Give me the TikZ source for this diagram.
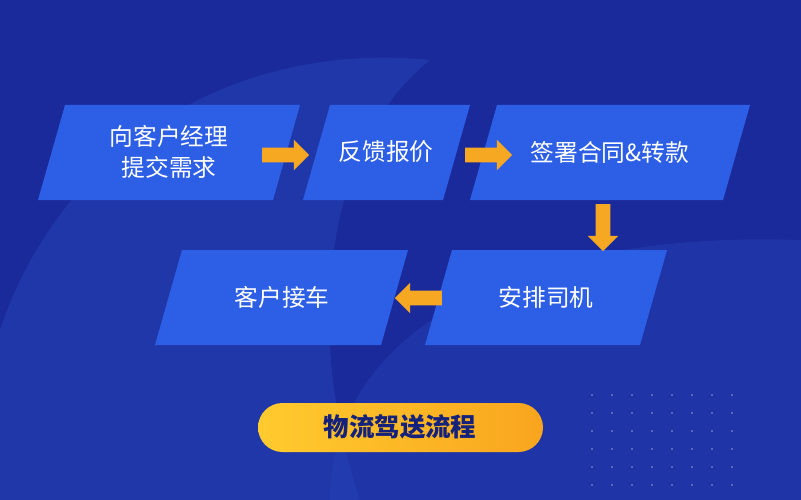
\documentclass[tikz,border=0pt]{standalone}
\usepackage{fontspec}
\setmainfont{Noto Sans CJK SC}
\usetikzlibrary{positioning}
\usetikzlibrary{shapes.arrows}
\definecolor{bgdark}{HTML}{1A2A9A}
\definecolor{bglight}{HTML}{2440B4}
\definecolor{boxblue}{HTML}{2D5FE6}
\definecolor{arrowor}{HTML}{F7A823}
\definecolor{pillyel}{HTML}{FFCB2E}
\definecolor{pillor}{HTML}{F9A51E}
\tikzset{step box/.style={fill=boxblue}}
\tikzset{label text/.style={text=white, font=\fontsize{13.5}{18}\selectfont, align=center}}
\tikzset{flow arrow/.style={single arrow, fill=arrowor, minimum height=9.4mm, single arrow head extend=1.6mm, minimum width=6mm, inner sep=1.4mm}}
\newcommand{\slantbox}[4]{% x left top, x right top, y top, y bottom (pixels)
  \fill[step box] (#1,#3) -- (#2,#3) -- (#2-27,#4) -- (#1-27,#4) -- cycle;}

\begin{document}
\begin{tikzpicture}[x=0.02cm, y=-0.02cm]
\fill[bgdark] (0,0) rectangle (801,500);
\fill[bglight, opacity=0.6] (0,500) -- (0,330) .. controls (60,150) and (230,40) .. (430,60) .. controls (330,140) and (300,320) .. (360,500) -- cycle;
\fill[bglight, opacity=0.5] (330,500) .. controls (330,330) and (520,230) .. (801,240) -- (801,500) -- cycle;
\foreach \i in {0,...,7}
  \foreach \j in {0,...,5}
    \fill[white, opacity=0.35] (592+\i*20, 395+\j*18) circle (1.2);

\slantbox{65}{300}{105}{200}
\slantbox{330}{470}{105}{200}
\slantbox{497}{750}{105}{200}
\slantbox{182}{408}{250}{345}
\slantbox{452}{667}{250}{345}

\node[label text] (ask) at (169,152) {向客户经理\\提交需求};
\node[label text] (quote) at (386,152) {反馈报价};
\node[label text] (sign) at (610,152) {签署合同\&转款};
\node[label text] (driver) at (546,297) {安排司机};
\node[label text] (pickup) at (282,297) {客户接车};

\node[flow arrow] (a1) at (282,155) {};
\node[flow arrow] (a2) at (485,155) {};
\node[flow arrow, shape border rotate=270] (a3) at (603,224) {};
\node[flow arrow, shape border rotate=180] (a4) at (422,298) {};

\shade[left color=pillyel, right color=pillor, rounded corners=0.49cm] (258,403) rectangle (543,452);
\node[text=bgdark!80!black, font=\fontsize{14.5}{18}\selectfont\bfseries] (title) at (400,427) {物流驾送流程};
\end{tikzpicture}
\end{document}
